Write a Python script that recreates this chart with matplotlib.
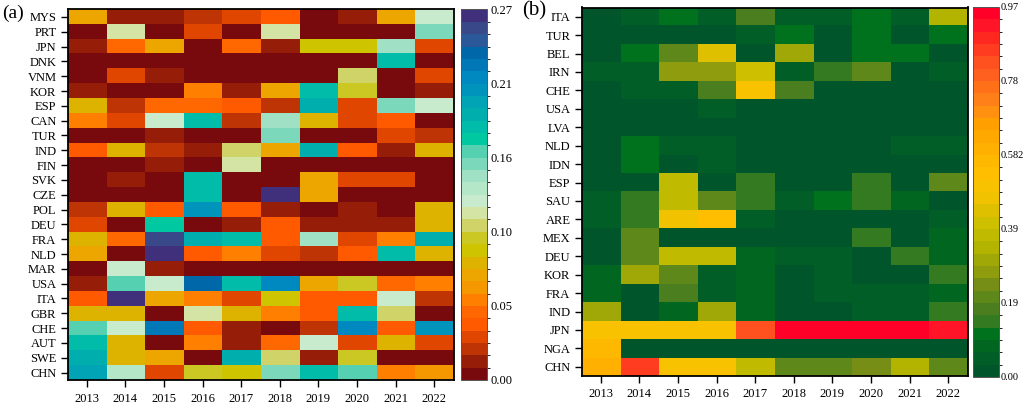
import matplotlib
matplotlib.use('Agg')
import matplotlib.pyplot as plt
from matplotlib.colors import ListedColormap, BoundaryNorm

plt.rcParams['font.family'] = ['Liberation Serif', 'DejaVu Serif']

years = [2013, 2014, 2015, 2016, 2017, 2018, 2019, 2020, 2021, 2022]

# panel (a)
countries_a = ['MYS', 'PRT', 'JPN', 'DNK', 'VNM', 'KOR', 'ESP', 'CAN', 'TUR', 'IND', 'FIN', 'SVK', 'CZE',
               'POL', 'DEU', 'FRA', 'NLD', 'MAR', 'USA', 'ITA', 'GBR', 'CHE', 'AUT', 'SWE', 'CHN']
values_a = [
    [.076, .013, .013, .022, .031, .040, .004, .013, .076, .130],
    [.004, .121, .004, .031, .004, .121, .004, .004, .004, .157],
    [.013, .049, .076, .004, .049, .013, .094, .094, .148, .031],
    [.004, .004, .004, .004, .004, .004, .004, .004, .184, .004],
    [.004, .031, .013, .004, .004, .004, .004, .112, .004, .031],
    [.013, .004, .004, .058, .013, .076, .184, .103, .004, .013],
    [.085, .022, .049, .049, .040, .022, .193, .031, .157, .130],
    [.058, .031, .130, .184, .022, .148, .085, .031, .040, .004],
    [.004, .004, .013, .004, .004, .157, .004, .004, .031, .022],
    [.040, .085, .022, .013, .112, .076, .193, .040, .013, .085],
    [.004, .004, .013, .004, .121, .004, .004, .004, .004, .004],
    [.004, .013, .004, .184, .004, .004, .076, .031, .031, .004],
    [.004, .004, .004, .184, .004, .265, .076, .004, .004, .004],
    [.022, .085, .040, .211, .040, .013, .004, .013, .004, .085],
    [.031, .004, .175, .004, .013, .040, .013, .013, .013, .085],
    [.085, .049, .256, .193, .184, .040, .148, .031, .058, .193],
    [.076, .004, .265, .040, .058, .031, .022, .040, .184, .085],
    [.004, .130, .013, .004, .004, .004, .004, .004, .004, .004],
    [.013, .166, .130, .238, .184, .220, .076, .103, .049, .058],
    [.040, .265, .076, .058, .031, .094, .040, .040, .130, .022],
    [.085, .085, .004, .121, .085, .058, .040, .184, .112, .004],
    [.166, .130, .229, .040, .013, .004, .022, .220, .040, .211],
    [.184, .085, .004, .058, .013, .049, .130, .031, .085, .031],
    [.193, .085, .076, .004, .193, .112, .013, .103, .004, .004],
    [.202, .139, .031, .103, .094, .157, .184, .166, .058, .067],
]
ticks_a = ['0.00', '0.05', '0.10', '0.16', '0.21', '0.27']
colors_a = ['#780A0E', '#961E08', '#BE3404', '#E04600', '#FF5A00', '#FF6800', '#FF8000', '#F59800',
            '#EDA500', '#DEB300', '#CFC400', '#CBC824', '#D0D468', '#D4E4A4', '#C8EACD', '#B4E6C8',
            '#A0E0C4', '#7CD8BA', '#55D0B0', '#00C8A0', '#00BCA8', '#00AEAE', '#00A4B4', '#0094BC',
            '#0088C0', '#0078B8', '#0068A8', '#2A5898', '#384888', '#40307C']

# panel (b)
countries_b = ['ITA', 'TUR', 'BEL', 'IRN', 'CHE', 'USA', 'LVA', 'NLD', 'IDN', 'ESP', 'SAU', 'ARE', 'MEX',
               'DEU', 'KOR', 'FRA', 'IND', 'JPN', 'NGA', 'CHN']
values_b = [
    [.016, .049, .113, .049, .178, .049, .049, .113, .049, .340],
    [.016, .016, .016, .016, .049, .113, .016, .113, .016, .113],
    [.016, .113, .210, .437, .016, .307, .016, .113, .113, .016],
    [.049, .049, .275, .275, .404, .049, .146, .210, .016, .049],
    [.016, .049, .049, .178, .501, .178, .016, .016, .016, .016],
    [.016, .016, .016, .049, .016, .016, .016, .016, .016, .016],
    [.016, .016, .016, .016, .016, .016, .016, .016, .016, .016],
    [.016, .113, .049, .049, .016, .016, .016, .016, .049, .049],
    [.016, .113, .016, .049, .016, .016, .016, .016, .016, .016],
    [.016, .016, .372, .016, .146, .016, .016, .146, .016, .210],
    [.049, .146, .372, .210, .146, .049, .113, .146, .081, .016],
    [.049, .146, .469, .534, .049, .016, .016, .016, .016, .049],
    [.016, .210, .016, .016, .016, .016, .016, .146, .016, .081],
    [.016, .210, .372, .372, .081, .049, .049, .016, .146, .081],
    [.081, .307, .210, .049, .081, .016, .049, .016, .016, .146],
    [.081, .016, .178, .049, .081, .016, .049, .049, .049, .081],
    [.307, .016, .081, .307, .081, .016, .016, .049, .049, .146],
    [.501, .501, .501, .501, .825, .954, .954, .954, .954, .922],
    [.566, .016, .016, .016, .016, .016, .016, .016, .016, .016],
    [.598, .857, .501, .501, .372, .210, .210, .243, .340, .210],
]
ticks_b = ['0.00', '0.19', '0.39', '0.582', '0.78', '0.97']
colors_b = ['#00562A', '#005E26', '#006620', '#00721E', '#347A20', '#4A7E1E', '#5E881A', '#768E16',
            '#8E9C0E', '#A0A808', '#B2B400', '#C0BA00', '#CEC000', '#DEC000', '#F0C200', '#F8C200',
            '#FFBE00', '#FFB800', '#FFB000', '#FFA800', '#FFA000', '#FF9010', '#FF8018', '#FF7018',
            '#FF6020', '#FF5020', '#FF3C20', '#FF2820', '#FF1428', '#FF0028']

W, H = 1024, 404


def px_axes(fig, x0, y0, x1, y1):
    # pixel box (top-left origin) to figure axes
    return fig.add_axes([x0 / W, 1 - y1 / H, (x1 - x0) / W, (y1 - y0) / H])


def heatmap(fig, box, cbox, values, countries, colors, vmax, ticks, xpad, cb_size, cb_pad):
    ax = px_axes(fig, *box)
    cmap = ListedColormap(colors)
    bounds = [vmax * i / len(colors) for i in range(len(colors) + 1)]
    norm = BoundaryNorm(bounds, cmap.N)
    im = ax.imshow(values, cmap=cmap, norm=norm, aspect='auto', interpolation='nearest')
    ax.set_xticks(range(len(years)))
    ax.set_xticklabels(years, fontsize=9)
    ax.set_yticks(range(len(countries)))
    ax.set_yticklabels(countries, fontsize=9)
    ax.tick_params(axis='both', length=5, width=1)
    ax.tick_params(axis='x', pad=xpad)
    ax.tick_params(axis='y', pad=3)
    for s in ax.spines.values():
        s.set_linewidth(1.3)

    cax = px_axes(fig, *cbox)
    cb = fig.colorbar(im, cax=cax, spacing='proportional', drawedges=False)
    cb.set_ticks([vmax * i / 5 for i in range(6)])
    cb.set_ticklabels(ticks, fontsize=cb_size)
    cax.tick_params(length=0, pad=cb_pad)
    cb.outline.set_linewidth(0.7)
    cb.outline.set_edgecolor('#555555')


fig = plt.figure(figsize=(W / 100, H / 100), dpi=100)

heatmap(fig, (67.5, 9.5, 453.5, 380), (460.5, 9.5, 487, 380), values_a, countries_a, colors_a, 0.27, ticks_a, 4.5, 9, 2.5)
heatmap(fig, (581.5, 7.5, 967.5, 376), (972.5, 7, 998.5, 377), values_b, countries_b, colors_b, 0.97, ticks_b, 3.5, 7.5, 1.5)

fig.text(2 / W, 1 - 18 / H, '(a)', fontsize=14)
fig.text(522 / W, 1 - 15 / H, '(b)', fontsize=15)

fig.savefig('out.png', dpi=100)
